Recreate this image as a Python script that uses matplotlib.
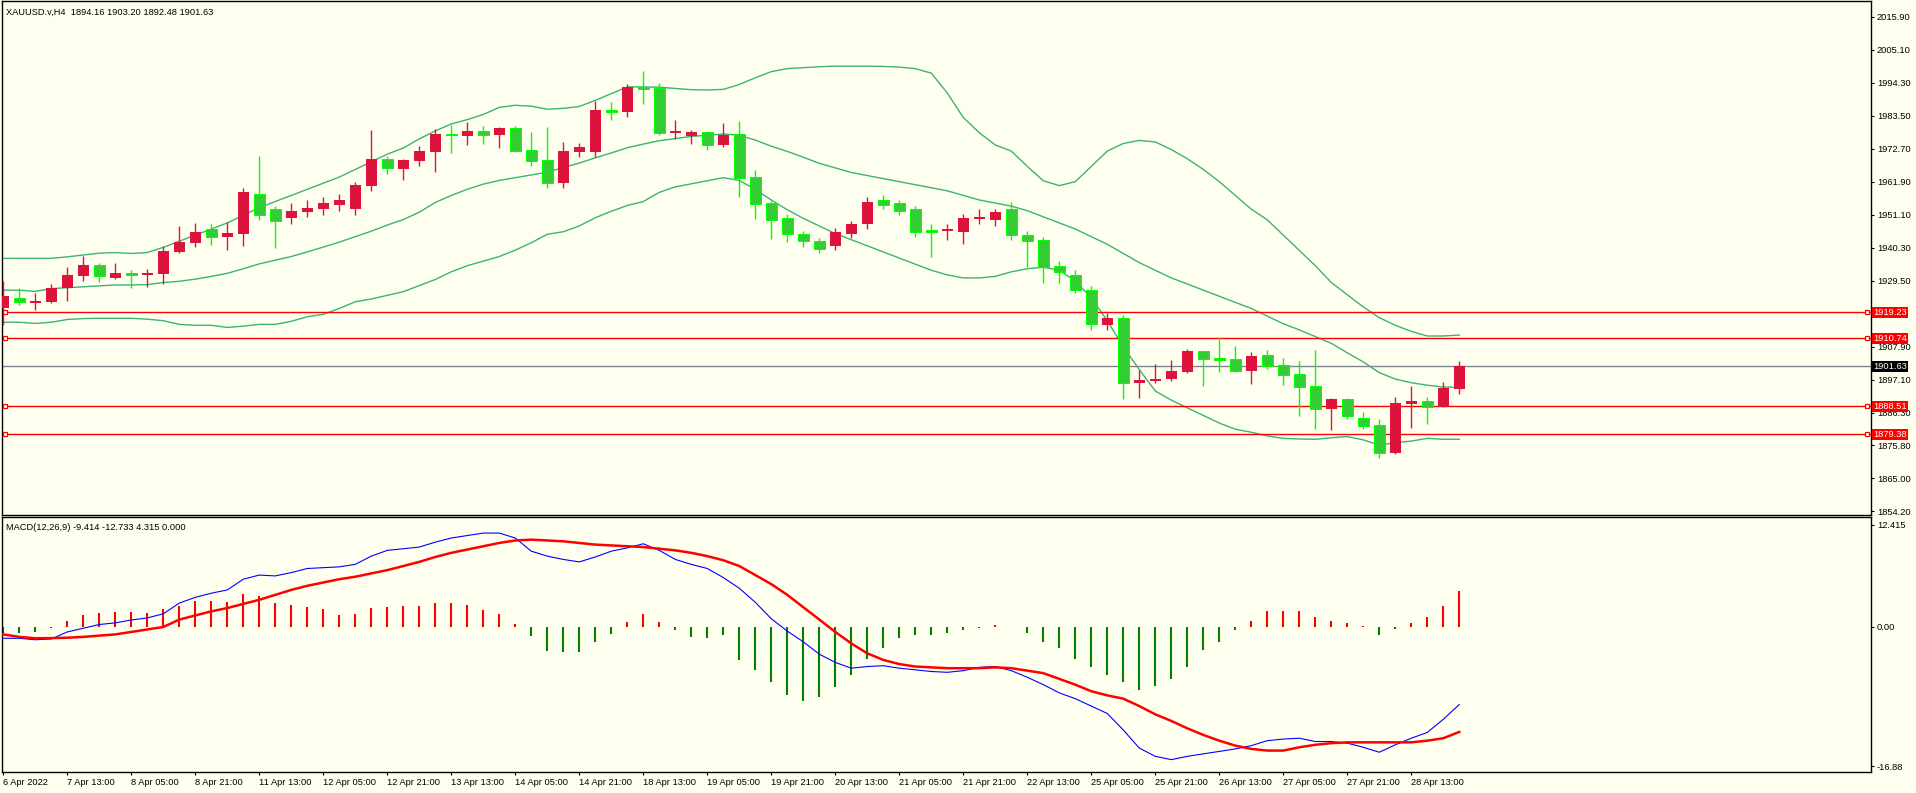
import matplotlib
matplotlib.use("Agg")
import matplotlib.pyplot as plt
from matplotlib.transforms import blended_transform_factory

# === DATA (XAUUSD H4) ===

opens = [1920.7, 1923.9, 1922.3, 1922.6, 1927.2, 1931.1, 1934.7, 1930.5, 1932.1, 1931.5,
         1931.8, 1939.0, 1942.0, 1946.5, 1944.0, 1944.9, 1958.0, 1953.0, 1950.0, 1952.0,
         1953.0, 1954.5, 1953.0, 1960.5, 1969.5, 1966.2, 1968.9, 1971.8, 1977.6, 1976.9,
         1978.6, 1977.4, 1979.6, 1972.4, 1969.1, 1961.7, 1971.7, 1971.7, 1985.4, 1984.8,
         1993.0, 1992.8, 1978.0, 1976.9, 1978.2, 1974.0, 1977.6, 1963.5, 1955.0, 1950.1,
         1945.0, 1942.5, 1941.0, 1945.0, 1948.0, 1956.0, 1955.0, 1953.0, 1946.0, 1945.8,
         1945.5, 1949.8, 1949.5, 1953.0, 1944.5, 1943.0, 1934.5, 1931.5, 1926.5, 1915.0,
         1917.5, 1896.2, 1896.8, 1897.4, 1899.7, 1906.6, 1904.3, 1904.0, 1900.0, 1905.3,
         1902.0, 1899.1, 1895.1, 1887.6, 1890.9, 1884.7, 1882.4, 1873.2, 1889.3, 1890.2,
         1888.3, 1894.16]
highs = [1929.5, 1927.2, 1925.6, 1928.5, 1934.1, 1937.7, 1935.4, 1935.4, 1933.1, 1933.4,
         1940.9, 1947.5, 1948.5, 1948.0, 1948.7, 1960.0, 1970.5, 1954.0, 1955.0, 1956.0,
         1957.0, 1958.0, 1962.0, 1979.0, 1970.5, 1969.5, 1973.7, 1979.1, 1980.5, 1981.5,
         1980.2, 1980.0, 1980.2, 1978.2, 1979.9, 1975.0, 1974.6, 1988.4, 1988.1, 1994.0,
         1998.2, 1994.3, 1982.2, 1978.9, 1978.6, 1981.2, 1981.8, 1965.9, 1955.8, 1951.4,
         1946.0, 1943.5, 1947.0, 1949.0, 1957.0, 1957.5, 1956.0, 1954.0, 1948.0, 1948.0,
         1951.5, 1953.0, 1953.0, 1955.5, 1946.0, 1944.0, 1936.0, 1933.0, 1928.0, 1919.0,
         1918.5, 1900.4, 1902.3, 1903.6, 1907.2, 1906.6, 1911.2, 1908.2, 1906.3, 1906.9,
         1904.3, 1903.3, 1906.9, 1891.2, 1891.2, 1886.6, 1884.3, 1891.5, 1895.1, 1891.5,
         1896.4, 1903.20]
lows = [1915.1, 1921.6, 1920.0, 1922.3, 1922.9, 1929.5, 1929.2, 1930.2, 1927.2, 1927.5,
        1928.5, 1938.7, 1940.7, 1941.4, 1939.7, 1941.1, 1949.5, 1940.4, 1948.0, 1950.5,
        1951.0, 1952.5, 1951.0, 1959.0, 1964.5, 1962.5, 1967.1, 1965.3, 1971.5, 1974.1,
        1974.4, 1973.1, 1971.8, 1967.1, 1960.0, 1960.0, 1970.1, 1970.1, 1982.2, 1983.3,
        1987.5, 1977.3, 1976.1, 1974.4, 1972.4, 1973.4, 1957.1, 1949.9, 1943.4, 1942.4,
        1940.5, 1938.5, 1939.5, 1943.5, 1946.5, 1953.0, 1951.0, 1944.0, 1937.5, 1943.0,
        1941.5, 1948.0, 1947.5, 1943.0, 1934.0, 1929.0, 1929.0, 1925.5, 1913.5, 1913.5,
        1890.9, 1891.2, 1896.0, 1896.8, 1899.4, 1895.1, 1899.7, 1899.7, 1895.8, 1900.7,
        1895.5, 1885.3, 1881.1, 1880.7, 1884.3, 1881.1, 1871.6, 1872.9, 1881.4, 1882.7,
        1888.3, 1892.48]
closes = [1924.6, 1922.6, 1922.9, 1927.2, 1931.5, 1934.7, 1931.1, 1932.1, 1931.5, 1932.1,
          1939.3, 1942.3, 1945.5, 1944.0, 1945.3, 1958.5, 1951.0, 1949.0, 1952.5, 1953.5,
          1955.0, 1956.0, 1961.0, 1969.5, 1966.5, 1969.1, 1972.0, 1977.6, 1977.2, 1978.6,
          1977.4, 1979.6, 1972.1, 1968.9, 1961.7, 1972.0, 1973.3, 1985.4, 1984.9, 1993.0,
          1992.4, 1978.0, 1978.6, 1978.2, 1974.0, 1977.4, 1963.3, 1954.8, 1949.6, 1945.0,
          1942.5, 1940.0, 1945.5, 1948.0, 1955.5, 1954.5, 1952.5, 1945.5, 1945.5, 1946.5,
          1950.0, 1950.6, 1952.0, 1944.5, 1942.5, 1934.0, 1932.5, 1926.5, 1915.5, 1917.5,
          1896.2, 1897.1, 1897.4, 1900.0, 1906.6, 1904.0, 1903.8, 1900.0, 1905.0, 1901.8,
          1898.8, 1894.8, 1887.6, 1890.9, 1885.3, 1882.0, 1873.2, 1889.6, 1890.2, 1888.3,
          1894.5, 1901.63]

# Bollinger bands
bb_upper = [1936.9, 1936.9, 1936.9, 1936.9, 1937.4, 1938.0, 1938.6, 1938.8, 1938.5, 1938.8,
            1940.5, 1942.5, 1944.5, 1946.5, 1948.5, 1951.0, 1953.5, 1955.5, 1957.5, 1959.5,
            1961.5, 1963.5, 1966.0, 1968.5, 1971.0, 1973.0, 1976.0, 1978.6, 1980.9, 1982.3,
            1984.0, 1986.3, 1987.0, 1986.7, 1985.7, 1986.0, 1986.6, 1988.6, 1990.8, 1993.0,
            1993.0, 1992.9, 1992.5, 1992.1, 1992.0, 1992.2, 1993.8, 1996.0, 1998.0, 1999.0,
            1999.3, 1999.6, 1999.8, 1999.8, 1999.8, 1999.7, 1999.5, 1999.0, 1997.5, 1991.0,
            1983.0, 1978.0, 1974.0, 1972.0, 1967.0, 1962.3, 1960.7, 1962.0, 1967.0, 1972.0,
            1974.5, 1975.5, 1975.0, 1972.5, 1969.5, 1966.0, 1962.0, 1957.5, 1953.0, 1949.5,
            1944.5, 1939.5, 1934.5, 1929.0, 1925.0, 1921.0, 1917.5, 1915.0, 1913.0, 1911.5,
            1911.5, 1911.8]
bb_middle = [1926.5, 1926.5, 1926.1, 1927.0, 1927.3, 1927.6, 1927.9, 1928.2, 1928.2, 1928.3,
             1929.0, 1929.4, 1930.1, 1931.0, 1932.0, 1933.5, 1935.1, 1936.3, 1937.5, 1939.0,
             1940.6, 1942.2, 1944.0, 1945.8, 1947.8, 1949.6, 1952.0, 1955.2, 1957.5, 1959.5,
             1961.2, 1962.4, 1963.3, 1964.2, 1965.1, 1966.6, 1968.1, 1969.8, 1971.4, 1973.1,
             1974.3, 1975.4, 1976.1, 1976.8, 1977.2, 1977.6, 1977.2, 1975.6, 1973.6, 1971.9,
             1970.0, 1968.0, 1966.5, 1965.0, 1964.0, 1963.0, 1962.0, 1961.0, 1960.0, 1959.0,
             1957.5, 1956.0, 1955.0, 1954.0, 1952.5, 1950.5, 1948.5, 1946.5, 1944.0, 1941.5,
             1938.5, 1935.5, 1933.0, 1930.5, 1928.5, 1926.5, 1924.5, 1922.5, 1920.5, 1918.0,
             1915.5, 1913.5, 1911.3, 1909.1, 1906.0, 1903.0, 1899.5, 1897.4, 1896.2, 1895.4,
             1894.8, 1894.7]
bb_lower = [1916.0, 1916.0, 1915.6, 1916.0, 1916.9, 1917.2, 1917.3, 1917.3, 1917.3, 1917.0,
            1916.5, 1915.3, 1915.0, 1915.0, 1914.3, 1914.7, 1915.3, 1915.3, 1916.3, 1917.8,
            1918.6, 1920.5, 1922.7, 1923.6, 1924.8, 1926.0, 1928.0, 1930.0, 1932.5, 1934.5,
            1936.0, 1937.5, 1939.6, 1942.0, 1944.8, 1945.6, 1947.5, 1950.2, 1952.3, 1954.2,
            1955.5, 1958.5, 1960.3, 1961.3, 1962.3, 1963.3, 1962.4, 1959.5, 1956.0, 1952.8,
            1950.0, 1947.5, 1945.0, 1943.0, 1941.0, 1939.0, 1937.0, 1935.0, 1933.0, 1931.5,
            1930.5, 1930.5, 1931.0, 1932.5, 1933.5, 1934.0, 1933.0, 1929.5, 1924.0, 1916.5,
            1908.0, 1900.5, 1893.5, 1890.5, 1888.0, 1885.5, 1883.0, 1881.0, 1880.0, 1878.8,
            1878.0, 1877.8, 1877.7, 1878.2, 1878.6, 1877.5, 1875.8, 1876.6, 1877.1, 1878.0,
            1877.7, 1877.7]

# MACD(12,26,9)
macd_main = [-1.37, -1.37, -1.55, -1.45, -0.6, -0.15, 0.3, 0.5, 0.85, 1.1,
             1.6, 2.9, 3.6, 4.1, 4.5, 5.8, 6.3, 6.2, 6.6, 7.1,
             7.2, 7.3, 7.6, 8.6, 9.3, 9.5, 9.7, 10.3, 10.8, 11.1,
             11.4, 11.4, 10.8, 9.2, 8.6, 8.2, 7.9, 8.5, 9.2, 9.6,
             10.1, 9.3, 8.2, 7.6, 7.1, 6.0, 4.7, 3.0, 1.0, -0.5,
             -1.8, -3.3, -4.3, -5.0, -4.8, -4.7, -5.0, -5.2, -5.4, -5.5,
             -5.3, -4.9, -4.8, -5.3, -6.1, -7.0, -8.0, -8.7, -9.6, -10.5,
             -12.5, -14.7, -15.7, -16.1, -15.7, -15.4, -15.1, -14.8, -14.4, -13.8,
             -13.6, -13.5, -13.9, -13.9, -14.1, -14.6, -15.2, -14.3, -13.5, -12.8,
             -11.2, -9.414]
macd_signal = [-0.9, -1.2, -1.37, -1.35, -1.3, -1.2, -1.05, -0.9, -0.6, -0.3,
               0.0, 0.9, 1.4, 1.9, 2.3, 2.8, 3.3, 3.9, 4.5, 5.0,
               5.4, 5.8, 6.1, 6.5, 6.9, 7.4, 7.9, 8.5, 9.0, 9.4,
               9.8, 10.2, 10.5, 10.6, 10.5, 10.4, 10.2, 10.0, 9.9, 9.8,
               9.7, 9.5, 9.3, 9.0, 8.6, 8.1, 7.4, 6.3, 5.2, 3.9,
               2.4, 0.9, -0.6, -2.0, -3.2, -4.0, -4.5, -4.8, -4.9, -5.0,
               -5.0, -5.0, -4.9, -5.0, -5.3, -5.6, -6.3, -7.0, -7.8, -8.3,
               -8.7, -9.6, -10.6, -11.4, -12.3, -13.1, -13.8, -14.4, -14.8, -15.0,
               -15.0, -14.6, -14.3, -14.1, -14.0, -14.0, -14.0, -14.0, -14.0, -13.8,
               -13.5, -12.733]
macd_hist = [-0.69, -0.69, -0.57, -0.12, 0.73, 1.46, 1.70, 1.82, 1.82, 1.70,
             2.19, 2.55, 3.16, 3.16, 3.04, 4.01, 3.77, 2.91, 2.67, 2.43,
             2.19, 1.46, 1.58, 2.31, 2.43, 2.55, 2.55, 2.91, 2.91, 2.67,
             2.06, 1.58, 0.36, -1.09, -2.91, -3.04, -3.04, -1.82, -0.85, 0.61,
             1.58, 0.61, -0.36, -1.21, -1.3, -1.0, -4.0, -5.2, -6.7, -8.2,
             -9.0, -8.5, -7.3, -5.8, -3.9, -2.5, -1.3, -1.0, -1.0, -0.7,
             -0.4, -0.15, 0.3, 0.05, -0.7, -1.8, -2.5, -3.9, -4.9, -5.8,
             -6.7, -7.6, -7.2, -6.3, -4.8, -2.8, -1.8, -0.4, 0.7, 1.9,
             1.9, 1.9, 1.2, 0.7, 0.45, 0.15, -1.0, -0.3, 0.45, 1.2,
             2.5, 4.315]

# Horizontal levels
red_levels = [1919.23, 1910.74, 1888.51, 1879.38]
bid_price = 1901.63

# Axis ticks / labels (1918.70 sits under the 1919.23 box, so MT4 hides it)
price_ticks = [2015.90, 2005.10, 1994.30, 1983.50, 1972.70, 1961.90, 1951.10, 1940.30,
               1929.50, 1907.90, 1897.10, 1886.30, 1875.80, 1865.00, 1854.20]
macd_ticks = [12.415, 0.0, -16.88]
macd_tick_labels = ['12.415', '0.00', '-16.88']
date_labels = ['6 Apr 2022', '7 Apr 13:00', '8 Apr 05:00', '8 Apr 21:00', '11 Apr 13:00',
               '12 Apr 05:00', '12 Apr 21:00', '13 Apr 13:00', '14 Apr 05:00', '14 Apr 21:00',
               '18 Apr 13:00', '19 Apr 05:00', '19 Apr 21:00', '20 Apr 13:00', '21 Apr 05:00',
               '21 Apr 21:00', '22 Apr 13:00', '25 Apr 05:00', '25 Apr 21:00', '26 Apr 13:00',
               '27 Apr 05:00', '27 Apr 21:00', '28 Apr 13:00']
header_text = 'XAUUSD.v,H4  1894.16 1903.20 1892.48 1901.63'
macd_text = 'MACD(12,26,9) -9.414 -12.733 4.315 0.000'

# === STYLE ===

W, H = 1916, 793
BG = '#FFFFF0'
BULL = '#DC143C'
BEAR_FILL = '#32CD32'
BEAR_EDGE = '#00FF00'
BAND = '#3CB371'

plt.rcParams['font.family'] = ['Liberation Sans', 'DejaVu Sans']
plt.rcParams['font.size'] = 6.7


def px_axes(fig, left, top, right, bottom):
    """Add axes placed in pixel coordinates (origin top-left)."""
    return fig.add_axes([left / W, 1 - bottom / H, (right - left) / W, (bottom - top) / H])


fig = plt.figure(figsize=(W / 100, H / 100), dpi=100, facecolor=BG)
ax = px_axes(fig, 2, 1, 1871, 515)
ax2 = px_axes(fig, 2, 517, 1871, 772)

xs = list(range(len(closes)))
x_lim = (-0.08, 116.73)

for a in (ax, ax2):
    a.set_facecolor(BG)
    a.set_xlim(*x_lim)
    for s in a.spines.values():
        s.set_color('black')
        s.set_linewidth(1.0)
    a.yaxis.tick_right()
    a.tick_params(axis='y', direction='out', length=2.2, width=0.8, pad=2.0,
                  colors='black', labelsize=6.7)

# === PRICE PANEL ===

ax.set_ylim(1852.92, 2021.12)
ax.set_xticks([])
ax.set_yticks(price_ticks)
ax.set_yticklabels([f'{t:.2f}' for t in price_ticks])

# bollinger bands
for band in (bb_upper, bb_middle, bb_lower):
    ax.plot(xs, band, color=BAND, lw=1.0, zorder=2)

# candles: red = close above open, green = close below open
body_w = 0.6875
for i in xs:
    o, h, l, c = opens[i], highs[i], lows[i], closes[i]
    up = c >= o
    wick_col = BULL if up else BEAR_EDGE
    ax.vlines(i, l, h, color=wick_col, lw=1.0, zorder=3)
    bottom = min(o, c)
    height = max(abs(c - o), 0.55)
    if up:
        ax.bar(i, height, bottom=bottom, width=body_w, color=BULL, lw=0, zorder=4)
    else:
        ax.bar(i, height, bottom=bottom, width=body_w, color=BEAR_FILL,
               edgecolor=BEAR_EDGE, lw=0.7, zorder=4)

# horizontal levels with marker squares at both ends
edge_tf = blended_transform_factory(ax.transAxes, ax.transData)
for lvl in red_levels:
    ax.axhline(lvl, color='#FF0000', lw=1.0, zorder=2.5)
    ax.plot([0.0018, 0.9978], [lvl, lvl], ls='none', marker='s', ms=3.2,
            mfc=BG, mec='#FF0000', mew=0.9, transform=edge_tf, zorder=5, clip_on=False)
ax.axhline(bid_price, color='#7A8590', lw=1.0, zorder=2.5)

# price boxes on the scale
for lvl in red_levels:
    ax.text(1.0012, lvl, f'{lvl:.2f}', transform=edge_tf, ha='left', va='center',
            color='white', fontsize=6.7, clip_on=False, zorder=6,
            bbox=dict(boxstyle='square,pad=0.12', fc='#FF0000', ec='none'))
ax.text(1.0012, bid_price, f'{bid_price:.2f}', transform=edge_tf, ha='left', va='center',
        color='white', fontsize=6.7, clip_on=False, zorder=6,
        bbox=dict(boxstyle='square,pad=0.12', fc='black', ec='none'))

fig.text(6 / W, 1 - 12 / H, header_text, ha='left', va='center', fontsize=6.7, color='black')

# === MACD PANEL ===

ax2.set_ylim(-17.6, 13.35)
ax2.set_yticks(macd_ticks)
ax2.set_yticklabels(macd_tick_labels)

hist_cols = ['#FF0000' if v >= 0 else '#008000' for v in macd_hist]
ax2.vlines(xs, 0, macd_hist, colors=hist_cols, lw=1.5, zorder=2)
ax2.plot(xs, macd_main, color='#0000FF', lw=0.8, zorder=3)
ax2.plot(xs, macd_signal, color='#FF0000', lw=1.8, zorder=3)

ax2.set_xticks(xs[::4][:len(date_labels)])
ax2.set_xticklabels(date_labels, ha='left')
ax2.tick_params(axis='x', direction='out', length=2.5, width=0.8, pad=1.5,
                colors='black', labelsize=6.7)

fig.text(6 / W, 1 - 527 / H, macd_text, ha='left', va='center', fontsize=6.7, color='black')

fig.savefig('out.png', dpi=100, facecolor=BG)
